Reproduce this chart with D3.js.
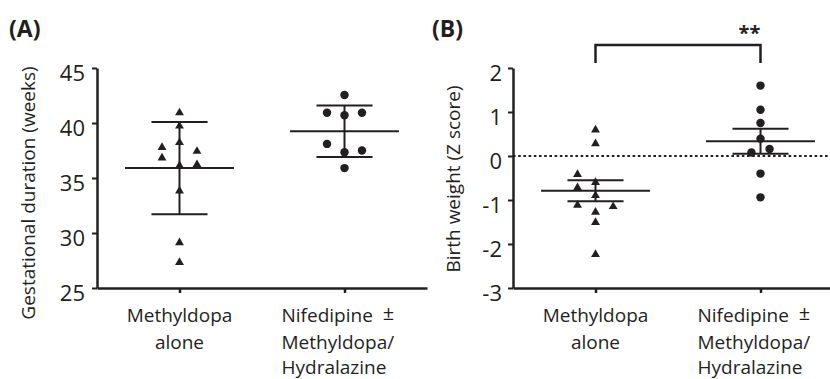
<!DOCTYPE html>
<html>
<head>
<meta charset="utf-8">
<script src="https://cdn.jsdelivr.net/npm/d3@7"></script>
<style>
  body { margin: 0; background: #fff; }
  svg { display: block; font-family: "Open Sans", sans-serif; }
</style>
</head>
<body>
<div id="chart"></div>
<script>
// Groups on the x axis (0 and 1 on a linear x scale)
const groups = ["Methyldopa alone", "Nifedipine ± Methyldopa/Hydralazine"];

// (A) gestational duration in weeks
const gestMethyldopa = [41.0, 39.8, 38.3, 37.85, 36.9, 37.5, 36.3, 36.2, 33.9, 29.2, 27.4];
const gestMethyldopaJitter = [0, 0, 0, -0.106, -0.106, 0.106, 0.106, 0, 0, 0, 0];
const gestNifedipine = [42.55, 40.94, 40.7, 40.94, 38.1, 37.5, 37.35, 35.9];
const gestNifedipineJitter = [0, -0.106, 0, 0.106, -0.106, 0.106, 0, 0];
const gestMean = [35.9, 39.25];
const gestSD = [4.2, 2.35];

// (B) birth weight Z score
const zMethyldopa = [0.61, 0.30, -0.40, -0.70, -0.58, -0.88, -1.10, -1.13, -1.26, -1.49, -2.22];
const zMethyldopaJitter = [0, 0, -0.109, -0.109, 0, 0, -0.109, 0.107, 0, 0, 0];
const zNifedipine = [1.60, 1.05, 0.75, 0.39, 0.08, 0.16, -0.40, -0.94];
const zNifedipineJitter = [0, 0, 0, 0, -0.055, 0.055, 0, 0];
const zMean = [-0.79, 0.335];
const zSEM = [0.24, 0.285];

const gestTicks = [25, 30, 35, 40, 45];
const zTicks = [-3, -2, -1, 0, 1, 2];

const W = 830, H = 379;
const ink = "#231f20";
const plotW = 330, plotH = 220;

const svg = d3.select("#chart").append("svg")
  .attr("width", W).attr("height", H);

function drawPanel(cfg) {
  const g = svg.append("g").attr("transform", `translate(${cfg.left},${cfg.top})`);
  const x = d3.scaleLinear().domain([-0.5, 1.5]).range([0, plotW]);
  const y = d3.scaleLinear().domain(cfg.domain).range([plotH, 0]);

  // reference line at zero
  if (cfg.zeroLine) {
    g.append("line")
      .attr("x1", 0).attr("x2", plotW)
      .attr("y1", y(0)).attr("y2", y(0))
      .attr("stroke", ink).attr("stroke-width", 2)
      .attr("stroke-dasharray", "2.6,2.6");
  }

  // y axis (plain hyphen minus, no decimals)
  const yAxis = g.append("g")
    .call(d3.axisLeft(y).tickValues(cfg.ticks).tickFormat(d => String(d))
      .tickSize(5).tickSizeOuter(0).tickPadding(cfg.tickPad));
  yAxis.select(".domain").attr("stroke", ink).attr("stroke-width", 2.5);
  yAxis.selectAll(".tick line").attr("stroke", ink).attr("stroke-width", 2);
  yAxis.selectAll(".tick text")
    .attr("font-family", "Open Sans, sans-serif")
    .attr("font-size", 22).attr("fill", ink).attr("dy", "0.55em");

  // x axis
  const xAxis = g.append("g")
    .attr("transform", `translate(0,${plotH})`)
    .call(d3.axisBottom(x).tickValues([0, 1]).tickFormat("").tickSize(5).tickSizeOuter(0));
  xAxis.select(".domain").attr("stroke", ink).attr("stroke-width", 2.5);
  xAxis.selectAll(".tick line").attr("stroke", ink).attr("stroke-width", 2.5);

  // category labels
  const lab1 = g.append("text").attr("text-anchor", "middle")
    .attr("font-size", 19).attr("fill", ink);
  lab1.append("tspan").attr("x", x(0)).attr("y", 254).text("Methyldopa");
  lab1.append("tspan").attr("x", x(0)).attr("y", 280.5).text("alone");

  const lab2 = g.append("text").attr("text-anchor", "start")
    .attr("font-size", 19).attr("fill", ink);
  const lx = x(1) - 63;
  lab2.append("tspan").attr("x", lx).attr("y", 254).text("Nifedipine");
  lab2.append("tspan").attr("dx", 10).attr("dy", -2).attr("font-size", 20).text("±");
  lab2.append("tspan").attr("x", lx).attr("y", 281).text("Methyldopa/");
  lab2.append("tspan").attr("x", lx).attr("y", 305.5).text("Hydralazine");

  // axis title
  svg.append("text")
    .attr("transform", `translate(${cfg.titleX},${cfg.titleY}) rotate(-90)`)
    .attr("text-anchor", "middle").attr("dy", "0.35em")
    .attr("font-size", 19).attr("fill", ink)
    .text(cfg.title);

  // panel letter
  svg.append("text")
    .attr("x", cfg.letterX).attr("y", 37)
    .attr("font-size", 23).attr("font-weight", "bold").attr("fill", ink)
    .text(cfg.letter);

  // mean and error bars
  cfg.mean.forEach((m, i) => {
    const lo = m - cfg.err[i], hi = m + cfg.err[i];
    g.append("line")
      .attr("x1", x(i)).attr("x2", x(i)).attr("y1", y(hi)).attr("y2", y(lo))
      .attr("stroke", ink).attr("stroke-width", 2);
    [hi, lo].forEach(v => {
      g.append("line")
        .attr("x1", x(i - 0.17)).attr("x2", x(i + 0.17))
        .attr("y1", y(v)).attr("y2", y(v))
        .attr("stroke", ink).attr("stroke-width", 2);
    });
    g.append("line")
      .attr("x1", x(i - 0.33)).attr("x2", x(i + 0.33))
      .attr("y1", y(m)).attr("y2", y(m))
      .attr("stroke", ink).attr("stroke-width", 2);
  });

  // points
  const tri = d3.symbol().type(d3.symbolTriangle).size(34);
  const dot = d3.symbol().type(d3.symbolCircle).size(56);
  g.selectAll(".tri").data(cfg.a.map((v, i) => ({ v, j: cfg.aJ[i] })))
    .join("path").attr("class", "tri")
    .attr("d", tri)
    .attr("transform", d => `translate(${x(0 + d.j)},${y(d.v) + 0.8})`)
    .attr("fill", ink);
  g.selectAll(".dot").data(cfg.b.map((v, i) => ({ v, j: cfg.bJ[i] })))
    .join("path").attr("class", "dot")
    .attr("d", dot)
    .attr("transform", d => `translate(${x(1 + d.j)},${y(d.v)})`)
    .attr("fill", ink);

  return { g, x, y };
}

drawPanel({
  left: 97, top: 68, domain: [25, 45], ticks: gestTicks, tickPad: 7,
  title: "Gestational duration (weeks)", titleX: 28, titleY: 193,
  letter: "(A)", letterX: 9,
  mean: gestMean, err: gestSD,
  a: gestMethyldopa, aJ: gestMethyldopaJitter,
  b: gestNifedipine, bJ: gestNifedipineJitter
});

const pB = drawPanel({
  left: 513, top: 68, domain: [-3, 2], ticks: zTicks, tickPad: 6,
  title: "Birth weight (Z score)", titleX: 453, titleY: 179,
  letter: "(B)", letterX: 432,
  mean: zMean, err: zSEM,
  a: zMethyldopa, aJ: zMethyldopaJitter,
  b: zNifedipine, bJ: zNifedipineJitter, zeroLine: true
});

// significance bracket
const bx0 = pB.x(0), bx1 = pB.x(1);
pB.g.append("path")
  .attr("d", `M${bx0},-5 V-23 H${bx1} V-5`)
  .attr("fill", "none").attr("stroke", ink).attr("stroke-width", 2.5);
pB.g.append("text")
  .attr("x", bx1 - 11).attr("y", -28)
  .attr("text-anchor", "middle")
  .attr("font-size", 20).attr("font-weight", "bold").attr("fill", ink)
  .text("**");
</script>
</body>
</html>
